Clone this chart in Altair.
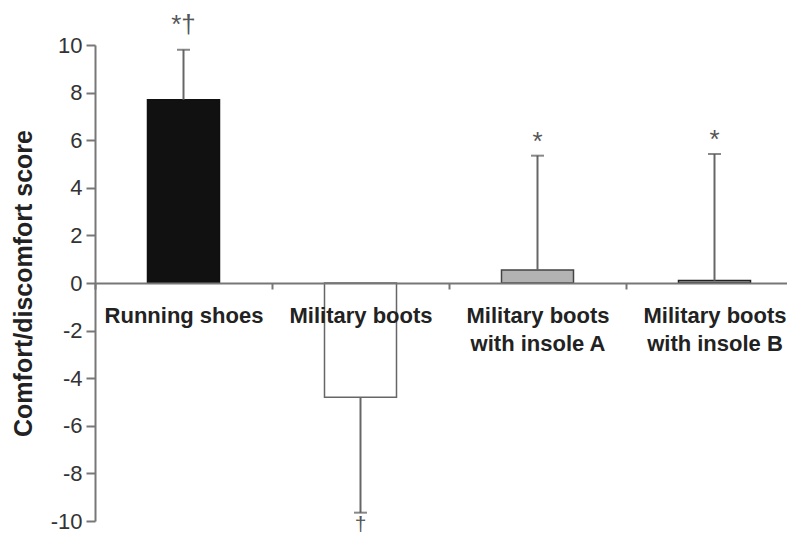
import altair as alt
import pandas as pd

categories = ["Running shoes", "Military boots", "Military boots\nwith insole A", "Military boots\nwith insole B"]
means = [7.7, -4.8, 0.55, 0.1]
errors = [2.1, 4.85, 4.8, 5.32]
marks = ["*†", "†", "*", "*"]
fills = ["#111111", "#ffffff", "#b3b3b3", "#9a9a9a"]
strokes = ["#111111", "#666666", "#444444", "#222222"]
y_ticks = [-10, -8, -6, -4, -2, 0, 2, 4, 6, 8, 10]

df = pd.DataFrame({"cat": categories, "mean": means, "err": errors, "mark": marks})

FONT = "Liberation Sans"
W, H = 692, 476

xenc = alt.X("cat:N", sort=categories,
             scale=alt.Scale(range=[0, 708], paddingInner=0, paddingOuter=0),
             axis=alt.Axis(title=None, orient="bottom", offset=-H / 2, labelAngle=0,
                           labelFont=FONT, labelFontSize=22, labelFontWeight="bold",
                           labelColor="#222222", labelLineHeight=28, labelPadding=16,
                           labelExpr="split(datum.label, '\\n')",
                           tickBand="extent", tickSize=6, tickColor="#777777", tickWidth=2,
                           domainColor="#777777", domainWidth=2, zindex=1))

yscale = alt.Scale(domain=[-10, 10], nice=False, zero=False)

base = alt.Chart(df).transform_calculate(
    end="datum.mean >= 0 ? datum.mean + datum.err : datum.mean - datum.err"
)

bars = base.mark_bar(width=72, strokeWidth=1.5).encode(
    x=xenc,
    y=alt.Y("mean:Q", scale=yscale,
            axis=alt.Axis(title="Comfort/discomfort score", values=y_ticks,
                          labelExpr="datum.value < 0 ? '-' + abs(datum.value) : '' + datum.value",
                          labelFont=FONT, labelFontSize=22, labelColor="#333333",
                          labelPadding=4, tickSize=9, tickColor="#777777", tickWidth=2,
                          domainColor="#777777", domainWidth=2, grid=False,
                          titleFont=FONT, titleFontSize=25, titleFontWeight="bold",
                          titleColor="#222222", titlePadding=14)),
    y2=alt.datum(0),
    fill=alt.Fill("cat:N", scale=alt.Scale(domain=categories, range=fills), legend=None),
    stroke=alt.Stroke("cat:N", scale=alt.Scale(domain=categories, range=strokes), legend=None),
)

rules = base.mark_rule(color="#666666", strokeWidth=2).encode(
    x=alt.X("cat:N", sort=categories),
    y=alt.Y("mean:Q", scale=yscale),
    y2="end:Q",
)

caps = base.mark_tick(color="#555555", size=13, thickness=2).encode(
    x=alt.X("cat:N", sort=categories),
    y=alt.Y("end:Q", scale=yscale),
)

txt_style = dict(font=FONT, color="#555555", align="center")

ann_pos2 = base.transform_filter("datum.mean >= 0 && length(datum.mark) > 1").mark_text(
    baseline="alphabetic", dy=-17, fontSize=26, **txt_style).encode(
    x=alt.X("cat:N", sort=categories), y=alt.Y("end:Q", scale=yscale), text="mark:N")

ann_pos1 = base.transform_filter("datum.mean >= 0 && length(datum.mark) == 1").mark_text(
    baseline="alphabetic", dy=-6, fontSize=26, **txt_style).encode(
    x=alt.X("cat:N", sort=categories), y=alt.Y("end:Q", scale=yscale), text="mark:N")

ann_neg = base.transform_filter("datum.mean < 0").mark_text(
    baseline="alphabetic", dy=18, fontSize=21, **txt_style).encode(
    x=alt.X("cat:N", sort=categories), y=alt.Y("end:Q", scale=yscale), text="mark:N")

chart = alt.layer(bars, rules, caps, ann_pos2, ann_pos1, ann_neg).properties(
    width=W, height=H,
    autosize=alt.AutoSizeParams(type="none"),
    padding={"left": 87, "top": 37, "right": 0, "bottom": 14},
    background="#ffffff",
).configure_view(stroke=None)

chart.save("out.html", embed_options={"renderer": "svg", "actions": False})
